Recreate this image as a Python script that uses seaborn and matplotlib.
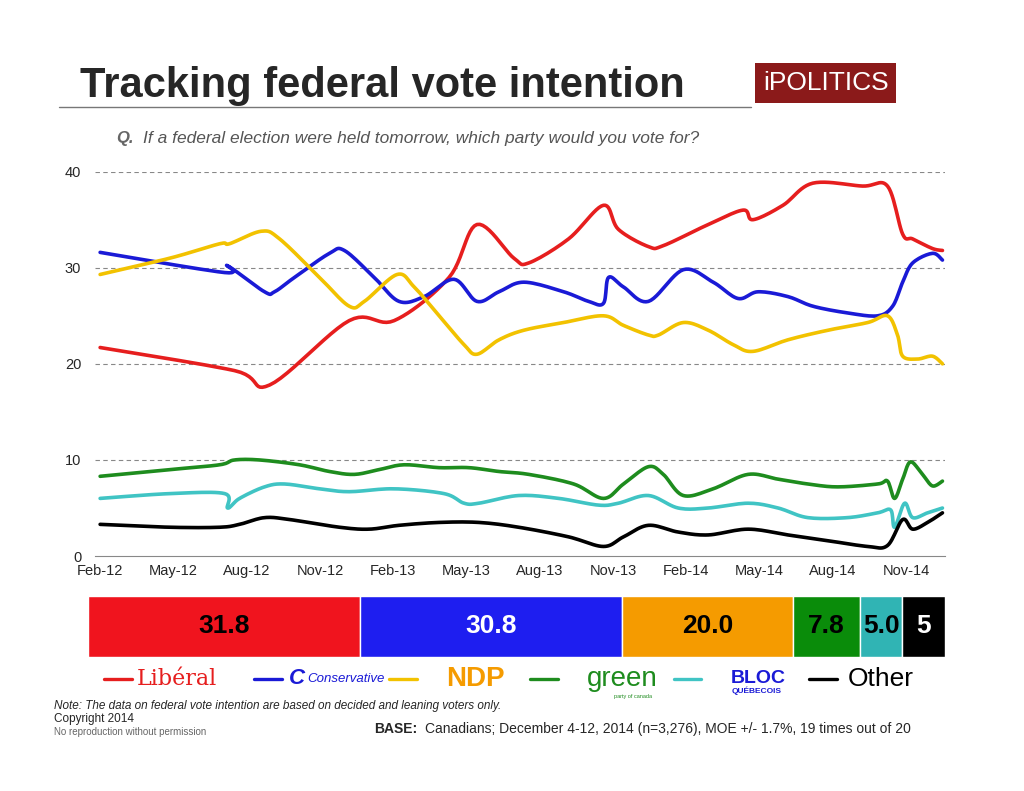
import numpy as np
import matplotlib
matplotlib.use("Agg")
import matplotlib.pyplot as plt
import seaborn as sns

sns.set_style("white")
plt.rcParams['font.family'] = ['Liberation Sans', 'DejaVu Sans']

tick_labels = ["Feb-12","May-12","Aug-12","Nov-12","Feb-13","May-13","Aug-13","Nov-13","Feb-14","May-14","Aug-14","Nov-14"]

lib_x = [0,5.5,6.94,10.2,12.04,14.29,15.43,16.94,17.55,19.18,20.61,21.22,22.45,23.06,24.9,26.33,26.73,27.96,29.18,31.22,32.24,32.86,33.27,34.08,34.49]
lib_y = [21.7,19.3,17.8,24.5,24.5,29,34.5,31,30.5,33,36.5,34,32.2,32.3,34.5,36,35,36.5,38.8,38.5,38.5,33.5,33,32,31.8]
con_x = [0,5.1,5.22,6.73,7.14,7.96,9.39,10,11.22,12.24,13.27,14.49,15.43,16.33,17.35,18.98,20,20.61,20.82,21.43,22.45,23.88,25.1,26.12,26.94,28.16,29.18,30.6,31.84,32.45,32.86,33.27,34.08,34.49]
con_y = [31.6,29.5,30.2,27.5,27.5,29,31.5,31.8,29,26.5,27,28.8,26.5,27.5,28.5,27.5,26.5,26.3,29,28,26.5,29.8,28.5,26.8,27.5,27,26,25.3,25,26,28.5,30.5,31.5,30.8]
ndp_x = [0,2.86,4.9,5.3,6.6,7.35,8.98,10.2,10.82,12.16,12.86,13.88,14.9,15.43,16.33,17.35,18.98,20.61,21.43,22.45,22.86,23.88,24.9,25.92,26.73,28.16,29.8,31.43,32.24,32.65,32.86,33.47,34.08,34.49]
ndp_y = [29.3,31,32.5,32.5,33.8,33,29,26,26.5,29.3,28,25,22,21,22.5,23.5,24.3,25,24,23,23,24.3,23.5,22,21.3,22.5,23.5,24.3,25,23,20.8,20.5,20.8,20]
grn_x = [0,2.86,4.9,5.5,6.53,8.16,9.39,10.41,11.43,12.45,13.88,15.1,16.33,17.55,19.39,20.61,21.43,22.45,23.06,23.88,25.1,26.53,27.76,28.98,30.2,31.84,32.24,32.53,32.86,33.18,33.67,34.08,34.49]
grn_y = [8.3,9,9.5,10,10,9.5,8.8,8.5,9,9.5,9.2,9.2,8.8,8.5,7.5,6,7.5,9.3,8.5,6.3,7,8.5,8,7.5,7.2,7.5,7.8,6,8,9.8,8.5,7.3,7.8]
blc_x = [0,2.86,5.1,5.22,5.71,6.73,7.55,8.98,10.2,12.04,14.08,14.9,15.51,17.14,18.78,20.41,21.22,22.45,23.67,24.9,26.53,27.76,28.98,30.6,31.84,32.37,32.53,32.94,33.27,33.88,34.49]
blc_y = [6,6.5,6.5,5,6,7.2,7.5,7,6.7,7,6.5,5.5,5.5,6.3,6,5.3,5.5,6.3,5,5,5.5,5,4,4,4.5,4.8,3,5.5,4,4.5,5]
oth_x = [0,2.86,4.9,5.71,6.73,7.76,9.8,11.02,12.24,13.88,15.51,17.14,19.18,20.61,21.43,22.45,23.67,24.9,26.53,28.16,29.8,31.43,32.24,32.86,33.27,33.88,34.49]
oth_y = [3.3,3,3,3.3,4,3.8,3,2.8,3.2,3.5,3.5,3,2,1,2,3.2,2.5,2.2,2.8,2.2,1.6,1,1.1,3.8,2.8,3.5,4.5]

parties = ["Liberal","Conservative","NDP","Green","Bloc","Other"]
line_colors = ["#e61e1e","#1a1ad6","#f2c200","#1e8c1e","#40c4c4","#000000"]
latest = [31.8, 30.8, 20.0, 7.8, 5.0, 5]
latest_lbl = ["31.8","30.8","20.0","7.8","5.0","5"]
bar_colors = ["#f0141e","#1e1ef0","#f59b00","#0a8c0a","#30b4b4","#000000"]
lbl_colors = ["black","white","black","black","black","white"]

def smooth(x, y, n=12):
    # Catmull-Rom curve through the points (drawing only)
    x = np.asarray(x, float); y = np.asarray(y, float)
    px = np.concatenate([[x[0]], x, [x[-1]]]); py = np.concatenate([[y[0]], y, [y[-1]]])
    ox, oy = [], []
    t = np.linspace(0, 1, n, endpoint=False)
    for i in range(1, len(px) - 2):
        for arr, out in ((px, ox), (py, oy)):
            p0, p1, p2, p3 = arr[i-1], arr[i], arr[i+1], arr[i+2]
            out.extend(0.5*((2*p1) + (-p0+p2)*t + (2*p0-5*p1+4*p2-p3)*t**2 + (-p0+3*p1-3*p2+p3)*t**3))
    ox.append(x[-1]); oy.append(y[-1])
    return np.array(ox), np.array(oy)

fig = plt.figure(figsize=(10.24, 7.91), dpi=100)
ax = fig.add_axes([0.093, 0.297, 0.83, 0.486])
series = [(lib_x,lib_y),(con_x,con_y),(ndp_x,ndp_y),(grn_x,grn_y),(blc_x,blc_y),(oth_x,oth_y)]
for (x, y), c in zip(series, line_colors):
    sx, sy = smooth(x, y)
    sns.lineplot(x=sx, y=sy, color=c, linewidth=2.6, ax=ax, sort=False, estimator=None)
ax.set_xlim(-0.2, 34.6)
ax.set_ylim(0, 40)
ax.set_yticks([0,10,20,30,40])
ax.set_xticks(np.arange(0, 34, 3))
ax.set_xticklabels(tick_labels)
ax.tick_params(axis="x", labelsize=10.5, length=0, pad=6)
ax.tick_params(axis="y", labelsize=10.5, length=0, pad=10)
for yv in [10,20,30,40]:
    ax.axhline(yv, color="#888888", linestyle=(0,(4,3)), linewidth=0.8, zorder=0)
for s in ["top","right","left"]:
    ax.spines[s].set_visible(False)
ax.spines["bottom"].set_color("#888888")

# stacked bar
bx = fig.add_axes([0.086, 0.17, 0.837, 0.076])
left = 0
for v, c, l, lc in zip(latest, bar_colors, latest_lbl, lbl_colors):
    bx.barh(0, v, left=left, color=c, height=1)
    bx.text(left + v/2, 0, l, ha="center", va="center", fontsize=19, fontweight="bold", color=lc)
    left += v
bx.set_xlim(0, left)
bx.set_ylim(-0.5, 0.5)
bx.axis("off")

# legend row
line_x0 = [0.102, 0.248, 0.38, 0.518, 0.658, 0.79]
text_x = [0.134, 0.30, 0.436, 0.573, 0.714, 0.828]
leg_names = ["Libéral","Conservative","NDP","green","BLOC","Other"]
leg_styles = [dict(color="#e61e1e", fontsize=16, family="DejaVu Serif"), dict(color="#1a1ad6", fontsize=9.5, style="italic"),
              dict(color="#f59b00", fontsize=20, fontweight="bold"), dict(color="#1e8c1e", fontsize=20),
              dict(color="#1a1ad6", fontsize=14, fontweight="bold"), dict(color="black", fontsize=19)]
for xx, tx, c, n, st in zip(line_x0, text_x, line_colors, leg_names, leg_styles):
    fig.lines.append(plt.Line2D([xx, xx+0.027], [0.142, 0.142], color=c, linewidth=2.4, transform=fig.transFigure))
    fig.text(tx, 0.142, n, va="center", **st)
fig.text(0.282, 0.142, "C", fontsize=16, color="#1a1ad6", fontweight="bold", style="italic", va="center")
fig.text(0.714, 0.127, "QUÉBECOIS", fontsize=6, color="#1a1ad6", fontweight="bold", va="center")
fig.text(0.6, 0.119, "party of canada", fontsize=4, color="#1e8c1e", va="center")

fig.text(0.078, 0.891, "Tracking federal vote intention", fontsize=30, fontweight="bold", va="center")
fig.lines.append(plt.Line2D([0.058, 0.733], [0.865, 0.865], color="#777777", linewidth=1, transform=fig.transFigure))
fig.text(0.745, 0.895, "iPOLITICS", fontsize=19, color="white", va="center",
         bbox=dict(boxstyle="square,pad=0.3", fc="#8b1a1a", ec="none"))
fig.text(0.113, 0.825, "Q.", fontsize=12, fontweight="bold", style="italic", color="#666666", va="center")
fig.text(0.14, 0.825, "If a federal election were held tomorrow, which party would you vote for?",
         fontsize=12.5, style="italic", color="#555555", va="center")
fig.text(0.053, 0.108, "Note: The data on federal vote intention are based on decided and leaning voters only.",
         fontsize=8.5, style="italic", va="center")
fig.text(0.053, 0.091, "Copyright 2014", fontsize=8.5, va="center")
fig.text(0.053, 0.075, "No reproduction without permission", fontsize=7, color="#666666", va="center")
fig.text(0.365, 0.078, "BASE:", fontsize=10, fontweight="bold", va="center")
fig.text(0.415, 0.078, "Canadians; December 4-12, 2014 (n=3,276), MOE +/- 1.7%, 19 times out of 20", fontsize=10, va="center")

fig.savefig("out.png", dpi=100)
